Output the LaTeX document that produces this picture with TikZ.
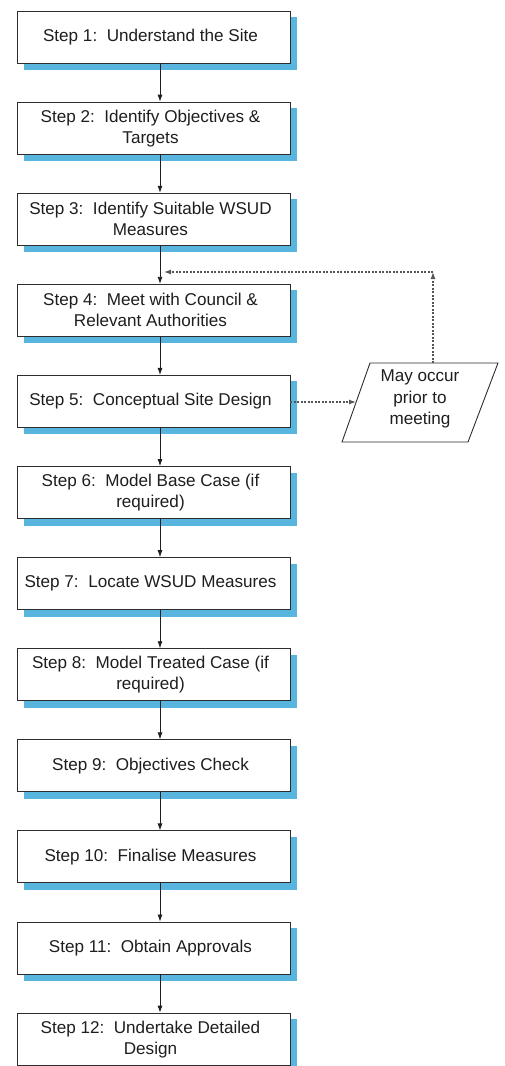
\documentclass[tikz,border=0pt]{standalone}
\usepackage{fontspec}
\setmainfont{Liberation Sans}
\usetikzlibrary{arrows.meta,calc}
\definecolor{shadowblue}{RGB}{88,182,222}
\definecolor{edgegray}{RGB}{45,45,45}
\definecolor{inkgray}{RGB}{30,30,30}
\definecolor{hintgray}{RGB}{85,85,85}
\begin{document}
\begin{tikzpicture}[x=1pt,y=-1pt,
  stepbox/.style={draw=edgegray, line width=0.9pt, fill=white,
    minimum width=273pt, minimum height=52pt, inner sep=0pt},
  steptext/.style={inner sep=0pt, align=center, text=inkgray,
    font=\fontsize{17.1}{21}\selectfont},
  notetext/.style={inner sep=0pt, align=center, text=inkgray,
    font=\fontsize{17.1}{21.5}\selectfont},
  flow/.style={draw=inkgray, line width=0.8pt,
    -{Latex[length=7pt,width=5pt]}},
  hint/.style={draw=hintgray, line width=1.2pt, dash pattern=on 2pt off 1.5pt,
    -{Latex[length=7pt,width=5pt]}}]
\useasboundingbox (0,0) rectangle (504,1066);

% the twelve steps, each with a blue offset shadow
\foreach \i/\txt in {
  1/{Step 1:\ \ Understand the Site},
  2/{Step 2:\ \ Identify Objectives \&\\Targets},
  3/{Step 3:\ \ Identify Suitable WSUD\\Measures},
  4/{Step 4:\ \ Meet with Council \&\\Relevant Authorities},
  5/{Step 5:\ \ Conceptual Site Design},
  6/{Step 6:\ \ Model Base Case (if\\required)},
  7/{Step 7:\ \ Locate WSUD Measures},
  8/{Step 8:\ \ Model Treated Case (if\\required)},
  9/{Step 9:\ \ Objectives Check},
  10/{Step 10:\ \ Finalise Measures},
  11/{Step 11:\ \ Obtain Approvals},
  12/{Step 12:\ \ Undertake Detailed\\Design}} {
  \pgfmathsetmacro\cy{37+(\i-1)*91.1}
  \fill[shadowblue] (23.5,\cy-20) rectangle (297,\cy+33);
  \node[stepbox] (s\i) at (153.5,\cy) {};
  \node[steptext] (t\i) at (150.5,\cy) {\txt};
}

% main flow
\foreach \a/\b in {1/2,2/3,3/4,4/5,5/6,6/7,7/8,8/9,9/10,10/11,11/12}
  \draw[flow] ([xshift=6.5pt]s\a.south) -- ([xshift=6.5pt]s\b.north);

% side note (parallelogram)
\coordinate (ptl) at (370,363);
\coordinate (ptr) at (498,363);
\coordinate (pbr) at (468,442);
\coordinate (pbl) at (342,442);
\draw[edgegray, line width=0.9pt, fill=white] (ptl) -- (ptr) -- (pbr) -- (pbl) -- cycle;
\node[notetext] (note) at (420,399) {May occur\\prior to\\meeting};

% dotted links to and from the note
\coordinate (pin) at (356,402);
\coordinate (ptop) at (433,363);
\coordinate (turn) at (433,272);
\coordinate (merge) at (164,272);
\draw[hint] (s5.east |- pin) -- (pin);
\draw[hint] (ptop) -- (turn);
\draw[hint] (turn) -- (merge);
\end{tikzpicture}
\end{document}
